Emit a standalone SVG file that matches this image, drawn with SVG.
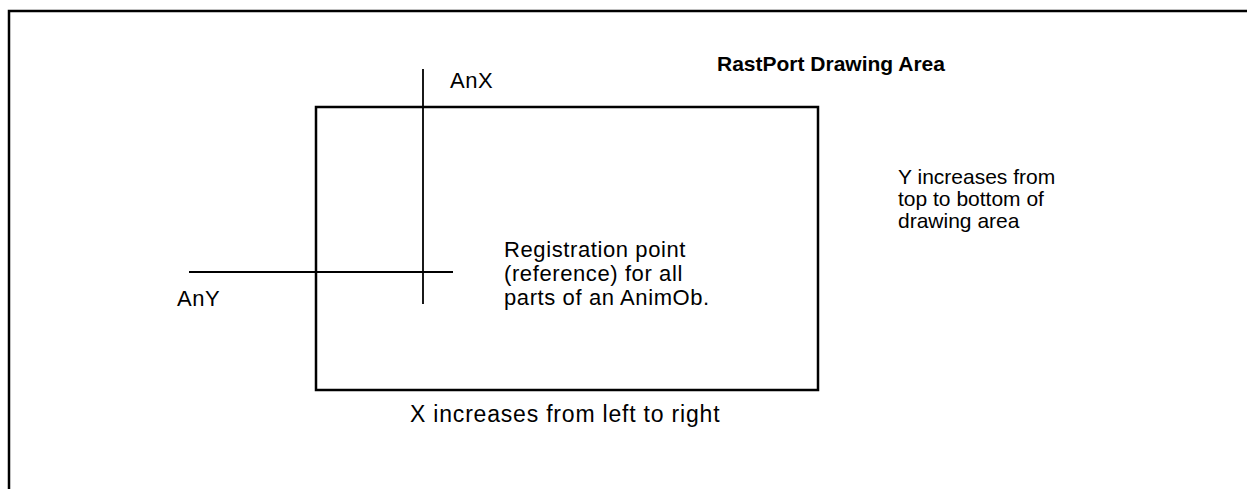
<svg xmlns="http://www.w3.org/2000/svg" width="1247" height="489" viewBox="0 0 1247 489">
<style>
.ln{stroke:#000;fill:none}
.t{font-family:"Liberation Sans",Arial,sans-serif;font-size:22px;fill:#000;letter-spacing:0.6px}
.y{font-family:"Liberation Sans",Arial,sans-serif;font-size:21px;fill:#000}
.x{font-family:"Liberation Sans",Arial,sans-serif;font-size:23px;fill:#000;letter-spacing:0.8px}
.b{font-family:"Liberation Sans",Arial,sans-serif;font-size:21px;font-weight:bold;fill:#000}
</style>
<rect width="1247" height="489" fill="#fff"/>
<g id="frame">
<path class="ln" stroke-width="2.5" d="M9,489 V11 H1247"/>
</g>
<g id="title"><text class="b" x="717" y="71">RastPort Drawing Area</text></g>
<g id="drawing-area">
<rect class="ln" stroke-width="2.5" x="316" y="107" width="502" height="283"/>
</g>
<g id="connectors">
<line class="ln" stroke-width="1.8" x1="423" y1="69" x2="423" y2="304"/>
<line class="ln" stroke-width="1.8" x1="189" y1="272" x2="453" y2="272"/>
</g>
<g id="anx"><text class="t" x="450" y="88">AnX</text></g>
<g id="any"><text class="t" x="177" y="306">AnY</text></g>
<g id="registration">
<text class="t" x="504" y="257">Registration point</text>
<text class="t" x="504" y="281">(reference) for all</text>
<text class="t" x="504" y="305">parts of an AnimOb.</text>
</g>
<g id="y-note">
<text class="y" x="898" y="184">Y increases from</text>
<text class="y" x="898" y="206">top to bottom of</text>
<text class="y" x="898" y="228">drawing area</text>
</g>
<g id="x-note"><text class="x" x="410" y="422">X increases from left to right</text></g>
</svg>
